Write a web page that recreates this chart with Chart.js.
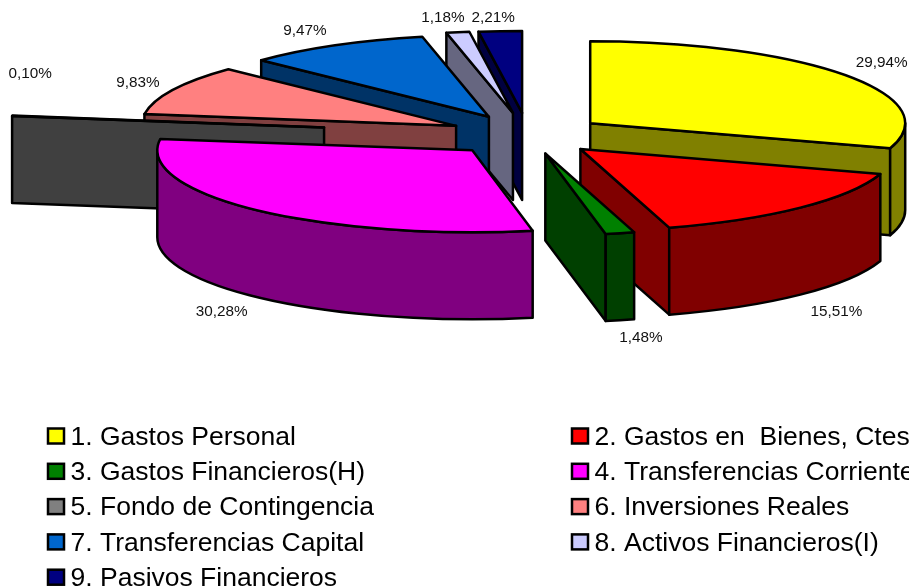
<!DOCTYPE html>
<html>
<head>
<meta charset="utf-8">
<title>Gastos</title>
<script src="https://cdn.jsdelivr.net/npm/chart.js@4"></script>
<style>
    html, body { margin: 0; padding: 0; background: #fff; overflow: hidden; }
    canvas { display: block; }
</style>
</head>
<body>
<canvas id="grafico" width="909" height="587"></canvas>
<script>
var categorias = [
    '1. Gastos Personal',
    '2. Gastos en  Bienes, Ctes',
    '3. Gastos Financieros(H)',
    '4. Transferencias Corrientes',
    '5. Fondo de Contingencia',
    '6. Inversiones Reales',
    '7. Transferencias Capital',
    '8. Activos Financieros(I)',
    '9. Pasivos Financieros'
];
var porcentajes = [29.94, 15.51, 1.48, 30.28, 0.10, 9.83, 9.47, 1.18, 2.21];

var coresTopo = ['#ffff00', '#ff0000', '#008000', '#ff00ff', '#808080', '#ff8080', '#0066cc', '#ccccff', '#000080'];
var coresLado = ['#808000', '#800000', '#004000', '#800080', '#404040', '#804040', '#003366', '#666680', '#000040'];

// how far each slice is pulled out of the pie, and where its label sits from the rim
var explosao = [77, 75, 73, 81, 206, 80, 80, 86, 85];
var deslocRotulo = [[37, -12], [36, 104], [21, 105], [-34, 102], [18, -42], [-35, -7], [-30, -15], [-15, -14], [-7, -13]];

var achatamento = 82 / 315;
var altura = 87;

function geometria(el, i) {
    var meio = (el.startAngle + el.endAngle) / 2;
    return {
        i: i,
        el: el,
        x: el.x + Math.cos(meio) * explosao[i],
        y: el.y + Math.sin(meio) * explosao[i] * achatamento,
        rx: el.outerRadius,
        ry: el.outerRadius * achatamento,
        ini: el.startAngle,
        fim: el.endAngle,
        meio: meio
    };
}

function parede(ctx, g, angulo) {
    var px = g.x + Math.cos(angulo) * g.rx;
    var py = g.y + Math.sin(angulo) * g.ry;
    ctx.beginPath();
    ctx.moveTo(g.x, g.y);
    ctx.lineTo(px, py);
    ctx.lineTo(px, py + altura);
    ctx.lineTo(g.x, g.y + altura);
    ctx.closePath();
    ctx.fill();
    ctx.stroke();
}

function desenhaFatia(ctx, g) {
    ctx.save();
    ctx.fillStyle = coresLado[g.i];
    ctx.strokeStyle = '#000';
    ctx.lineWidth = 2.5;
    ctx.lineJoin = 'round';

    // cut faces, only the ones turned to the viewer
    if (Math.cos(g.ini) < -0.001) parede(ctx, g, g.ini);
    if (Math.cos(g.fim) > 0.001) parede(ctx, g, g.fim);

    // curved outer wall
    var a0 = Math.max(g.ini, 0);
    var a1 = Math.min(g.fim, Math.PI);
    if (a1 > a0) {
        ctx.beginPath();
        ctx.ellipse(g.x, g.y, g.rx, g.ry, 0, a0, a1);
        ctx.ellipse(g.x, g.y + altura, g.rx, g.ry, 0, a1, a0, true);
        ctx.closePath();
        ctx.fill();
        ctx.stroke();
    }

    // top face is the library's own arc, squashed
    ctx.save();
    ctx.translate(g.x, g.y);
    ctx.scale(1, achatamento);
    ctx.translate(-g.el.x, -g.el.y);
    g.el.draw(ctx);
    ctx.restore();

    ctx.beginPath();
    ctx.moveTo(g.x, g.y);
    ctx.ellipse(g.x, g.y, g.rx, g.ry, 0, g.ini, g.fim);
    ctx.closePath();
    ctx.stroke();
    ctx.restore();
}

var pizza3d = {
    id: 'pizza3d',
    beforeDatasetsDraw: function (chart) {
        var ctx = chart.ctx;
        var fatias = chart.getDatasetMeta(0).data.map(geometria);

        // back to front
        fatias.slice().sort(function (a, b) { return a.y - b.y; }).forEach(function (g) {
            desenhaFatia(ctx, g);
        });

        ctx.save();
        ctx.fillStyle = '#111';
        ctx.font = '15.3px "Liberation Sans"';
        ctx.textAlign = 'center';
        ctx.textBaseline = 'middle';
        fatias.forEach(function (g) {
            var texto = porcentajes[g.i].toFixed(2).replace('.', ',') + '%';
            ctx.fillText(texto,
                g.x + Math.cos(g.meio) * g.rx + deslocRotulo[g.i][0],
                g.y + Math.sin(g.meio) * g.ry + deslocRotulo[g.i][1]);
        });
        ctx.restore();
        return false;
    },
    afterDraw: function (chart) {
        var ctx = chart.ctx;
        ctx.save();
        ctx.font = '26.5px "Liberation Sans"';
        ctx.textBaseline = 'middle';
        categorias.forEach(function (nome, i) {
            var x = i % 2 === 0 ? 48 : 572;
            var y = 436 + Math.floor(i / 2) * 35.3;
            ctx.fillStyle = coresTopo[i];
            ctx.strokeStyle = '#000';
            ctx.lineWidth = 2.5;
            ctx.fillRect(x, y - 7.5, 16, 15);
            ctx.strokeRect(x, y - 7.5, 16, 15);
            ctx.fillStyle = '#000';
            ctx.fillText(nome, x + 22.5, y + 1.5);
        });
        ctx.restore();
    }
};

new Chart(document.getElementById('grafico').getContext('2d'), {
    type: 'pie',
    data: {
        labels: categorias,
        datasets: [{
            data: porcentajes,
            backgroundColor: coresTopo,
            borderWidth: 0
        }]
    },
    options: {
        responsive: false,
        animation: false,
        radius: 315,
        layout: { padding: { left: 147, right: 0, top: 0, bottom: 317 } },
        plugins: {
            legend: { display: false },
            tooltip: { enabled: false }
        }
    },
    plugins: [pizza3d]
});
</script>
</body>
</html>
